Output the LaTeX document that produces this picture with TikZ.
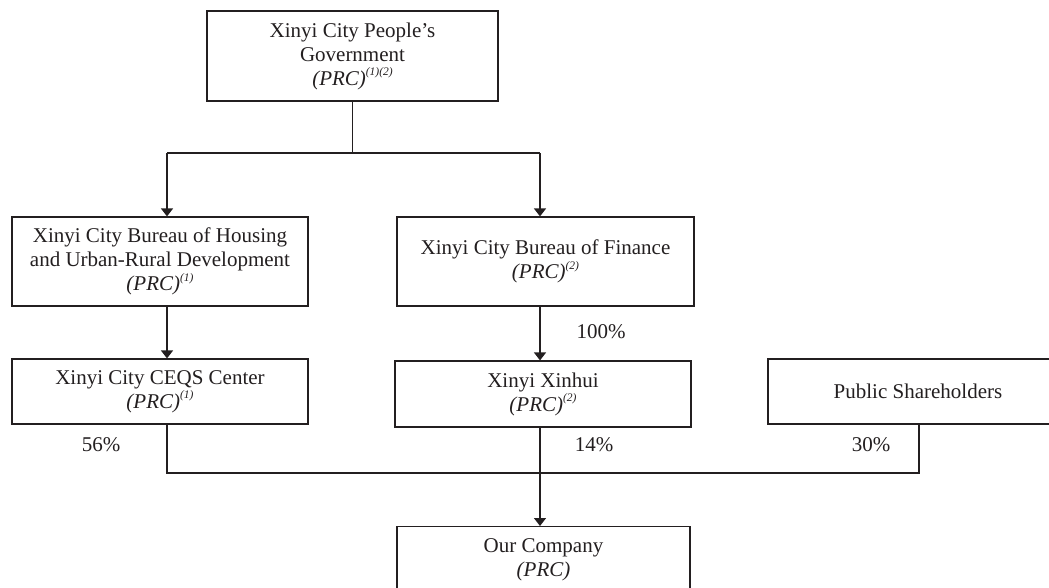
\documentclass[tikz,border=0pt]{standalone}
\usepackage{fontspec}
\setmainfont{Liberation Serif}
\usetikzlibrary{arrows.meta}
\definecolor{ink}{RGB}{35,31,32}
\newcommand{\sps}[1]{\raisebox{0.45em}{\fontsize{11.5}{11.5}\selectfont\itshape #1}}
\tikzset{
  box/.style={draw=ink, line width=1.2pt, fill=white, align=center, inner sep=2pt,
    font=\fontsize{21}{24}\selectfont, text=ink},
  conn/.style={draw=ink, line width=1.3pt},
  arr/.style={conn, -{Triangle[width=12pt,length=8pt]}},
  pct/.style={font=\fontsize{21}{24}\selectfont, text=ink, inner sep=0pt}
}
\begin{document}
\begin{tikzpicture}[x=1pt,y=-1pt]
\useasboundingbox (0,0) rectangle (1049,587);
\clip (0,0) rectangle (1049,587);
\fill[white] (0,0) rectangle (1049,587);
\node[box, minimum width=291pt, minimum height=90pt] (top) at (352.5,56)
  {Xinyi City People's\\Government\\\textit{(PRC)}\sps{(1)(2)}};
\node[box, minimum width=296pt, minimum height=89pt] (housing) at (160,261.5)
  {Xinyi City Bureau of Housing\\and Urban-Rural Development\\\textit{(PRC)}\sps{(1)}};
\node[box, minimum width=297pt, minimum height=89pt] (finance) at (545.5,261.5)
  {Xinyi City Bureau of Finance\\\textit{(PRC)}\sps{(2)}};
\node[box, minimum width=296pt, minimum height=65pt] (ceqs) at (160,391.5)
  {Xinyi City CEQS Center\\\textit{(PRC)}\sps{(1)}};
\node[box, minimum width=296pt, minimum height=66pt] (xinhui) at (543,394)
  {Xinyi Xinhui\\\textit{(PRC)}\sps{(2)}};
\node[box, minimum width=300pt, minimum height=65pt] (public) at (918,391.5)
  {Public Shareholders};
\node[box, minimum width=293pt, minimum height=66pt, anchor=north] (company) at (543.5,526)
  {Our Company\\\textit{(PRC)}};

\coordinate (jl) at (167,153);
\coordinate (jr) at (540,153);
\coordinate (jb) at (540,473);
\coordinate (jp) at (919,473);

\draw[conn] (top.south) -- (top.south |- jl);
\draw[conn] (jl) -- (jr);
\draw[arr] (jl) -- (jl |- housing.north);
\draw[arr] (jr) -- (jr |- finance.north);
\draw[arr] (jl |- housing.south) -- (jl |- ceqs.north);
\draw[arr] (jr |- finance.south) -- (jr |- xinhui.north);
\draw[conn] (jl |- ceqs.south) -- (jl |- jb) -- (jp) -- (jp |- public.south);
\draw[conn] (jb |- xinhui.south) -- (jb);
\draw[arr] (jb) -- (jb |- company.north);

\node[pct] (p100) at (601,332) {100\%};
\node[pct] (p56) at (101,445) {56\%};
\node[pct] (p14) at (594,445) {14\%};
\node[pct] (p30) at (871,445) {30\%};
\end{tikzpicture}
\end{document}
